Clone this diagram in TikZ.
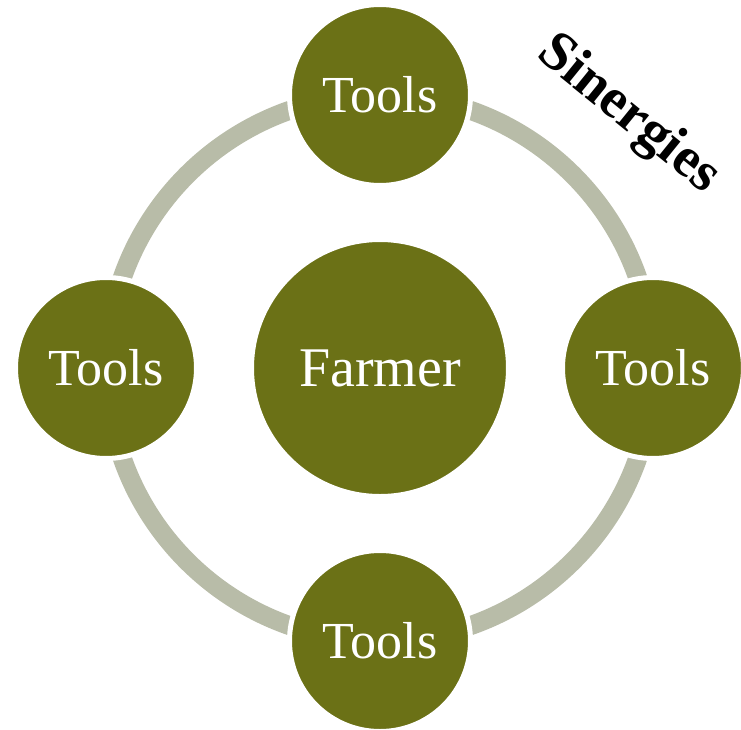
\documentclass[tikz,border=0pt]{standalone}
\usepackage{fontspec}
\setmainfont{Liberation Serif}
\usetikzlibrary{positioning}
\definecolor{olive}{RGB}{107,113,22}
\definecolor{ringgray}{RGB}{184,188,168}
\tikzset{
  hub/.style={circle, fill=olive, draw=white, line width=5pt,
    minimum size=257pt, inner sep=0pt, text=white, font=\fontsize{56}{64}\selectfont},
  tool/.style={circle, fill=olive, draw=white, line width=5pt,
    minimum size=181pt, inner sep=0pt, text=white, font=\fontsize{52}{60}\selectfont},
  ring/.style={draw=ringgray, line width=19pt},
}

\begin{document}
\begin{tikzpicture}[x=1pt, y=1pt]
\useasboundingbox (-380,-361) rectangle (361,368);

% ---------------- RING ----------------
\coordinate (c) at (0,0);
\draw[ring] (c) circle (273);

% ---------------- NODES ----------------
\node[hub] (n-farmer) at (c) {Farmer};
\node[tool] (n-top)    at (0,273)  {Tools};
\node[tool] (n-right)  at (273,0)  {Tools};
\node[tool] (n-bottom) at (0,-273) {Tools};
\node[tool] (n-left)   at (-274,0) {Tools};

% ---------------- TITLE ----------------
\node[rotate=-39, font=\bfseries\fontsize{56}{64}\selectfont] (n-title)
  at (248,253) {Sinergies};

\end{tikzpicture}
\end{document}
